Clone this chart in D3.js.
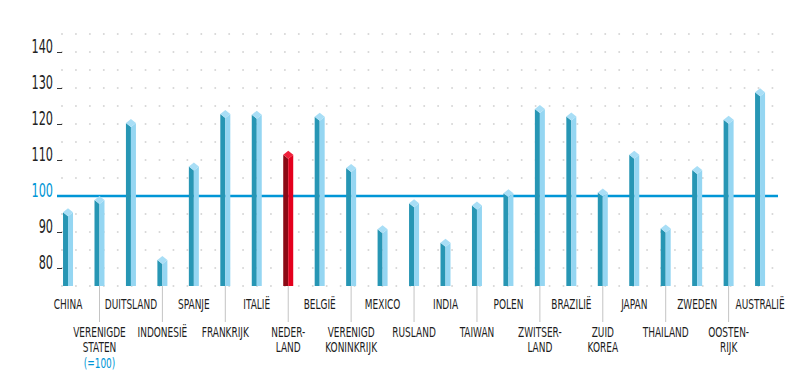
<!DOCTYPE html>
<html>
<head>
<meta charset="utf-8">
<script src="https://cdn.jsdelivr.net/npm/d3@7"></script>
<style>
  body { margin: 0; background: #fff; }
  svg { display: block; }
  .lbl { font-family: "DejaVu Sans Condensed", "Liberation Sans Narrow", "Roboto", sans-serif; font-size: 13.5px; fill: #1d1d1d; }
  .axis text { font-family: "DejaVu Sans Condensed", "Liberation Sans Narrow", "Roboto", sans-serif; font-size: 19px; fill: #222; }
</style>
</head>
<body>
<svg id="chart" width="800" height="380"></svg>
<script>
// countries, label lines (upper case as in the source)
const countries = ["China", "Verenigde Staten", "Duitsland", "Indonesië", "Spanje", "Frankrijk", "Italië",
  "Nederland", "België", "Verenigd Koninkrijk", "Mexico", "Rusland", "India", "Taiwan", "Polen",
  "Zwitserland", "Brazilië", "Zuid Korea", "Japan", "Thailand", "Zweden", "Oostenrijk", "Australië"]
const labelLines = [["CHINA"], ["VERENIGDE", "STATEN", "(=100)"], ["DUITSLAND"], ["INDONESIË"], ["SPANJE"],
  ["FRANKRIJK"], ["ITALIË"], ["NEDER-", "LAND"], ["BELGIË"], ["VERENIGD", "KONINKRIJK"], ["MEXICO"],
  ["RUSLAND"], ["INDIA"], ["TAIWAN"], ["POLEN"], ["ZWITSER-", "LAND"], ["BRAZILIË"], ["ZUID", "KOREA"],
  ["JAPAN"], ["THAILAND"], ["ZWEDEN"], ["OOSTEN-", "RIJK"], ["AUSTRALIË"]]
// index values (VS = 100)
const values = [96.6, 100, 121.4, 83.3, 109.3, 123.9, 123.7, 112.6, 123.1, 108.9, 91.9, 99.1, 88.1,
  98.5, 101.9, 125.3, 123.2, 102.1, 112.6, 92.1, 108.3, 122.3, 129.9]
const highlight = "Nederland"
const tickValues = [80, 90, 100, 110, 120, 130, 140]
const dotRows = d3.range(75, 146, 5)

const svg = d3.select('#chart')

const x = d3.scaleBand()
  .domain(countries)
  .range([52.3, 775.8])
  .padding(0)
const y = d3.scaleLinear()
  .domain([75, 145])
  .range([286, 34])

const barW = 10
const capH = 4
const tickSqueeze = 0.66   // the source uses a condensed face
const lblSqueeze = 0.74

// dotted background grid
const dotXs = d3.range(62, 780, 13.93)
const dots = svg.append('g').attr('class', 'dots')
dotRows.forEach(v => {
  dots.selectAll(null).data(dotXs).enter().append('circle')
    .attr('cx', d => d)
    .attr('cy', y(v))
    .attr('r', 1)
    .attr('fill', '#d6d6d6')
})

// y axis (labels sit on the tick)
const yAxis = d3.axisLeft(y)
  .tickValues(tickValues)
  .tickSize(5)
  .tickPadding(4)
  .tickFormat(d3.format('d'))
const yAxisG = svg.append('g')
  .attr('class', 'axis')
  .attr('transform', 'translate(62,0)')
  .call(yAxis)
yAxisG.select('.domain').remove()
yAxisG.selectAll('.tick line').attr('stroke', '#333').attr('stroke-width', 1)
yAxisG.selectAll('.tick text')
  .attr('dy', '0').attr('y', 0)
  .attr('x', -9 / tickSqueeze)
  .attr('transform', `scale(${tickSqueeze},1)`)
yAxisG.selectAll('.tick').filter(d => d == 100).select('line').remove()
yAxisG.selectAll('.tick').filter(d => d == 100).select('text').style('fill', '#0096d6')

// reference line at 100
svg.append('line')
  .attr('x1', 57).attr('x2', 778)
  .attr('y1', y(100)).attr('y2', y(100))
  .attr('stroke', '#0096d6')
  .attr('stroke-width', 2.4)

// connector lines for second-row labels
svg.append('g').selectAll('line')
  .data(countries.filter((d, i) => i % 2 == 1))
  .enter().append('line')
  .attr('x1', d => x(d) + x.bandwidth() / 2)
  .attr('x2', d => x(d) + x.bandwidth() / 2)
  .attr('y1', y(75))
  .attr('y2', 322)
  .attr('stroke', '#c4c4c4')
  .attr('stroke-width', 1)

// bars as little prisms
const data = countries.map((c, i) => ({ name: c, value: values[i], lines: labelLines[i], i: i }))
const bars = svg.append('g').selectAll('.bar').data(data).enter().append('g').attr('class', 'bar')

const cx = d => x(d.name) + x.bandwidth() / 2
const colDark = d => d.name == highlight ? '#8c0a15' : '#2796b4'
const colLight = d => d.name == highlight ? '#e4001d' : '#95d6f2'
const colTop = d => d.name == highlight ? '#f0203a' : '#a8def6'

bars.append('path')
  .attr('fill', colDark)
  .attr('d', d => {
    const c = cx(d), t = y(d.value), b = y(75)
    return `M${c - barW / 2},${t + capH}L${c},${t + 2 * capH}L${c},${b}L${c - barW / 2},${b}Z`
  })
bars.append('path')
  .attr('fill', colLight)
  .attr('d', d => {
    const c = cx(d), t = y(d.value), b = y(75)
    return `M${c},${t + 2 * capH}L${c + barW / 2},${t + capH}L${c + barW / 2},${b}L${c},${b}Z`
  })
bars.append('path')
  .attr('fill', colTop)
  .attr('d', d => {
    const c = cx(d), t = y(d.value)
    return `M${c},${t}L${c + barW / 2},${t + capH}L${c},${t + 2 * capH}L${c - barW / 2},${t + capH}Z`
  })

// country labels, alternating rows
const labels = svg.append('g').selectAll('text').data(data).enter().append('text')
  .attr('class', 'lbl')
  .attr('text-anchor', 'middle')
  .attr('transform', d => `translate(${cx(d)},${d.i % 2 == 0 ? 308.5 : 337}) scale(${lblSqueeze},1)`)
labels.selectAll('tspan').data(d => d.lines.map((l, k) => ({ l: l, k: k })))
  .enter().append('tspan')
  .attr('x', 0)
  .attr('dy', t => t.k == 0 ? 0 : 15.5)
  .style('fill', t => t.l == '(=100)' ? '#0096d6' : null)
  .text(t => t.l)
</script>
</body>
</html>
